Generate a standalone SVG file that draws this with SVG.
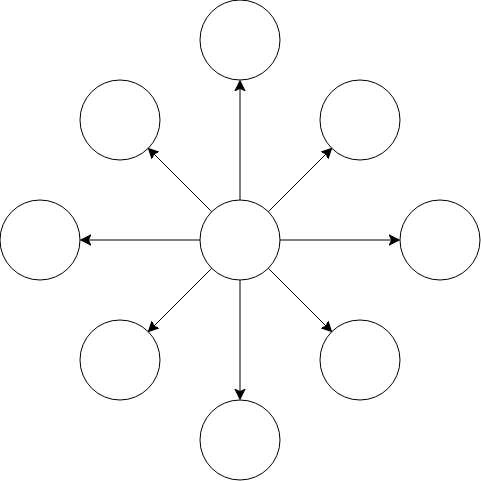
<svg xmlns="http://www.w3.org/2000/svg" width="481" height="481" viewBox="0 0 481 481">
<style>
.n{fill:#fff;stroke:#000;stroke-width:1}
.e{stroke:#000;stroke-width:1;fill:none;marker-end:url(#a)}
</style>
<defs>
<marker id="a" markerUnits="userSpaceOnUse" markerWidth="12" markerHeight="12" viewBox="-8 -5 10 10" refX="0" refY="0" orient="auto">
<path d="M0,0 L-8,-4 L-6,0 L-8,4 Z" fill="#000" stroke="#000" stroke-width="1"/>
</marker>
</defs>
<rect width="481" height="481" fill="#fff"/>
<g id="center"><circle class="n" cx="240" cy="240" r="40"/></g>
<g id="top"><circle class="n" cx="240" cy="40" r="40"/></g>
<g id="bottom"><circle class="n" cx="240" cy="440" r="40"/></g>
<g id="left"><circle class="n" cx="40" cy="240" r="40"/></g>
<g id="right"><circle class="n" cx="440" cy="240" r="40"/></g>
<g id="top-left"><circle class="n" cx="120" cy="120" r="40"/></g>
<g id="top-right"><circle class="n" cx="360" cy="120" r="40"/></g>
<g id="bottom-left"><circle class="n" cx="120" cy="360" r="40"/></g>
<g id="bottom-right"><circle class="n" cx="360" cy="360" r="40"/></g>
<g id="connectors">
<line class="e" x1="240" y1="200" x2="240" y2="81"/>
<line class="e" x1="240" y1="280" x2="240" y2="399"/>
<line class="e" x1="200" y1="240" x2="81" y2="240"/>
<line class="e" x1="280" y1="240" x2="399" y2="240"/>
<line class="e" x1="211.7" y1="211.7" x2="148.6" y2="148.6"/>
<line class="e" x1="268.3" y1="211.7" x2="331.4" y2="148.6"/>
<line class="e" x1="211.7" y1="268.3" x2="148.6" y2="331.4"/>
<line class="e" x1="268.3" y1="268.3" x2="331.4" y2="331.4"/>
</g>
</svg>
